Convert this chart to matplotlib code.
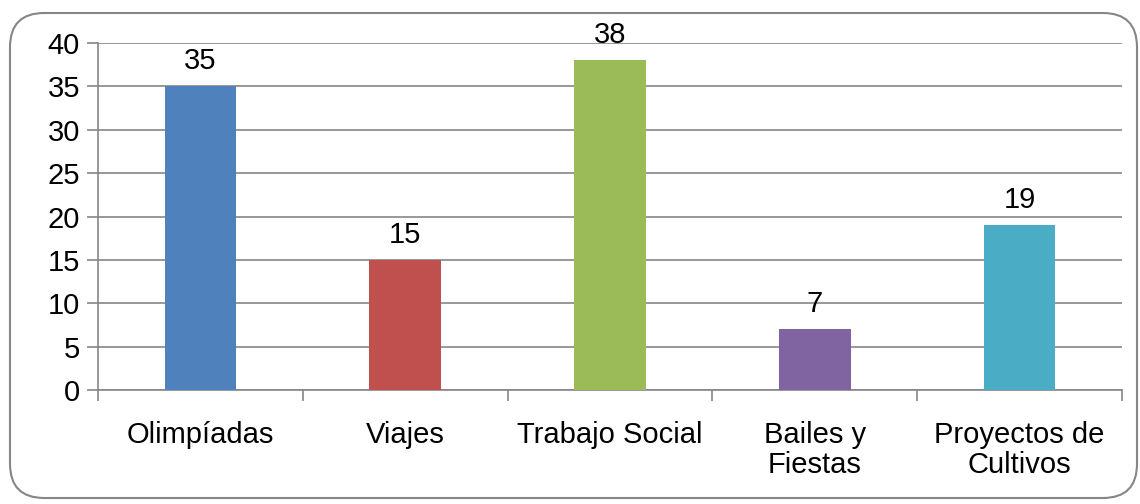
import matplotlib.pyplot as plt
from matplotlib.patches import FancyBboxPatch

categories = ["Olimpíadas", "Viajes", "Trabajo Social", "Bailes y\nFiestas", "Proyectos de\nCultivos"]
values = [35, 15, 38, 7, 19]
colors = ["#4F81BD", "#C0504D", "#9BBB59", "#8064A2", "#4BACC6"]
yticks = [0, 5, 10, 15, 20, 25, 30, 35, 40]

plt.rcParams["font.family"] = ["Liberation Sans", "DejaVu Sans"]
GRAY = "#868686"
FS = 21

fig = plt.figure(figsize=(11.4, 5.04), dpi=100)
ax = fig.add_axes([98 / 1140, 1 - 390 / 504, (1122 - 98) / 1140, (390 - 43) / 504])

# rounded outer frame like the spreadsheet chart area
frame = FancyBboxPatch((10 / 1140, 6 / 504), 1127 / 1140, 485 / 504,
                       boxstyle="round,pad=0,rounding_size=0.03",
                       transform=fig.transFigure, facecolor="none",
                       edgecolor=GRAY, linewidth=1.5, mutation_aspect=1140 / 504)
fig.patches.append(frame)

x = list(range(len(categories)))
bars = ax.bar(x, values, width=0.35, color=colors, zorder=3)
for bar, value in zip(bars, values):
    ax.annotate(str(value), (bar.get_x() + bar.get_width() / 2, bar.get_height()),
                textcoords="offset points", xytext=(0, 8), ha="center", va="bottom",
                fontsize=FS, color="black")

ax.set_xlim(-0.5, len(categories) - 0.5)
ax.set_ylim(0, 40)
ax.set_yticks(yticks)
ax.yaxis.grid(True, color=GRAY, linewidth=1.2, zorder=0)
ax.tick_params(axis="y", length=8, width=1.2, color=GRAY, labelsize=FS, pad=5)

ax.set_xticks(x)
ax.set_xticklabels(categories, fontsize=FS, linespacing=1.1)
ax.set_xticks([i - 0.5 for i in range(len(categories) + 1)], minor=True)
ax.tick_params(axis="x", which="major", length=0, pad=22)
ax.tick_params(axis="x", which="minor", length=8, width=1.2, color=GRAY)

for side in ["top", "right"]:
    ax.spines[side].set_visible(False)
for side in ["left", "bottom"]:
    ax.spines[side].set_color(GRAY)
    ax.spines[side].set_linewidth(1.2)

fig.savefig("out.png", dpi=100)
